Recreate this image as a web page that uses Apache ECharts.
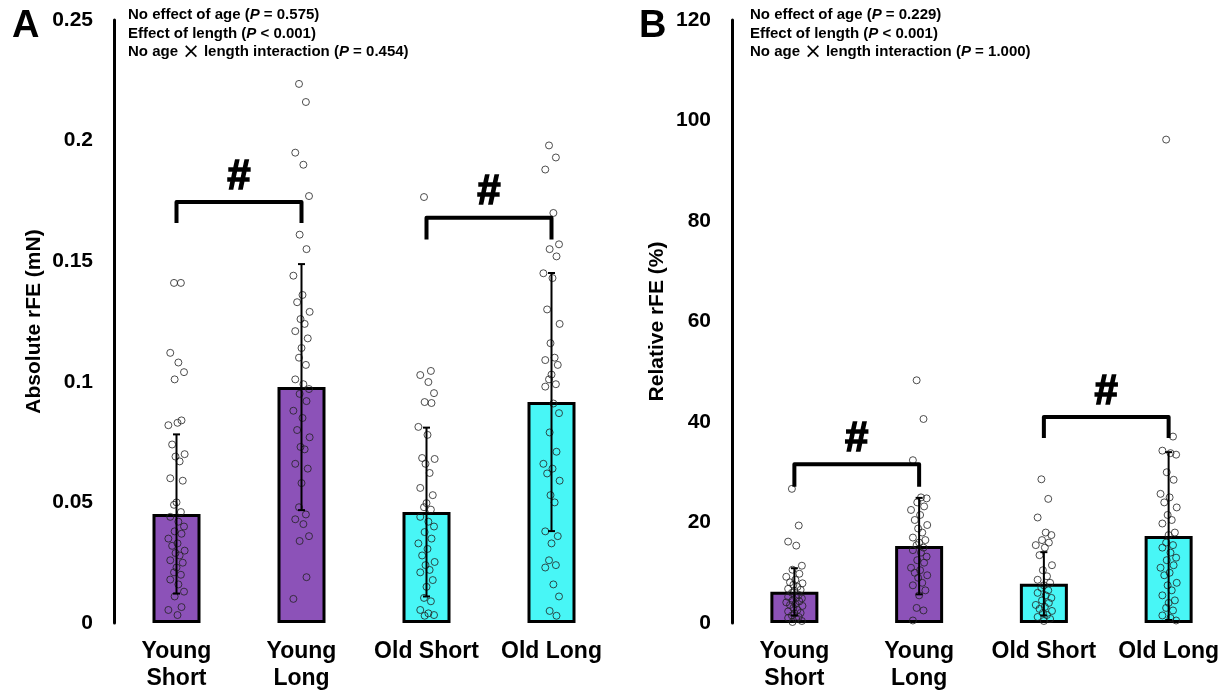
<!DOCTYPE html>
<html>
<head>
<meta charset="utf-8">
<script src="https://cdn.jsdelivr.net/npm/echarts@6/dist/echarts.min.js"></script>
<style>
  html, body { margin: 0; padding: 0; background: #fff; }
  #chart { width: 1231px; height: 694px; }
</style>
</head>
<body>
<div id="chart"></div>
<script>
var categories = ['Young\nShort', 'Young\nLong', 'Old Short', 'Old Long'];

// panel A: absolute rFE (mN)
var absMean = [0.0452, 0.0978, 0.046, 0.0916];
var absSD = [0.033, 0.051, 0.035, 0.0535];
var absYoungShort = [0.141, 0.141, 0.112, 0.108, 0.104, 0.101, 0.084, 0.082, 0.083, 0.074, 0.070, 0.069, 0.067, 0.060, 0.059, 0.050, 0.049, 0.046, 0.044, 0.042, 0.040, 0.038, 0.037, 0.035, 0.033, 0.032, 0.030, 0.029, 0.028, 0.026, 0.025, 0.023, 0.021, 0.020, 0.018, 0.016, 0.013, 0.011, 0.0066, 0.0054, 0.0033];
var absYoungLong = [0.2235, 0.216, 0.195, 0.190, 0.177, 0.161, 0.155, 0.144, 0.136, 0.133, 0.129, 0.126, 0.124, 0.121, 0.118, 0.114, 0.110, 0.107, 0.101, 0.099, 0.097, 0.095, 0.092, 0.088, 0.085, 0.080, 0.077, 0.073, 0.072, 0.066, 0.064, 0.058, 0.048, 0.045, 0.043, 0.041, 0.036, 0.034, 0.019, 0.010];
var absOldShort = [0.1766, 0.1045, 0.1028, 0.0999, 0.0953, 0.0916, 0.0912, 0.0813, 0.078, 0.0684, 0.068, 0.066, 0.0622, 0.056, 0.053, 0.0497, 0.048, 0.047, 0.044, 0.042, 0.040, 0.0377, 0.035, 0.033, 0.0307, 0.028, 0.0253, 0.024, 0.022, 0.021, 0.0178, 0.015, 0.0104, 0.009, 0.0054, 0.004, 0.0033, 0.003];
var absOldLong = [0.198, 0.193, 0.188, 0.170, 0.157, 0.155, 0.152, 0.145, 0.143, 0.130, 0.124, 0.116, 0.110, 0.109, 0.107, 0.103, 0.101, 0.099, 0.098, 0.091, 0.087, 0.079, 0.071, 0.066, 0.064, 0.062, 0.059, 0.053, 0.050, 0.038, 0.036, 0.033, 0.026, 0.024, 0.023, 0.016, 0.011, 0.005, 0.003];
// [fromCat, toCat, top, bottom]
var absBrackets = [[0, 1, 0.1745, 0.1658], [2, 3, 0.168, 0.159]];
var absStats = ['No effect of age ({i|P} = 0.575)', 'Effect of length ({i|P} < 0.001)', 'No age {x|\u00D7} length interaction ({i|P} = 0.454)'];

// panel B: relative rFE (%)
var relMean = [6.2, 15.3, 7.8, 17.3];
var relSD = [4.7, 9.6, 6.3, 16.7];
var relYoungShort = [26.7, 19.4, 16.2, 15.4, 11.4, 10.6, 9.8, 9.2, 8.6, 8.1, 7.9, 7.6, 7.2, 6.8, 6.6, 6.4, 6.0, 5.6, 5.2, 5.0, 4.9, 4.5, 4.3, 4.1, 3.8, 3.6, 3.4, 3.0, 2.6, 2.3, 2.0, 1.9, 1.5, 1.2, 1.0, 0.8, 0.4, 0.2];
var relYoungLong = [48.3, 40.6, 32.4, 25.0, 24.8, 24.0, 23.2, 22.5, 21.5, 20.5, 19.5, 18.8, 18.0, 17.0, 16.5, 16.0, 15.5, 15.0, 14.5, 14.0, 13.2, 12.5, 12.0, 11.0, 10.5, 10.0, 9.5, 9.0, 8.0, 7.5, 6.5, 5.5, 3.0, 2.5, 0.5];
var relOldShort = [28.6, 24.7, 21.0, 18.0, 17.5, 16.5, 16.0, 15.5, 15.0, 13.5, 11.5, 10.5, 9.3, 8.6, 8.0, 7.5, 7.0, 6.5, 6.0, 5.5, 5.0, 4.5, 4.0, 3.6, 3.2, 2.8, 2.4, 2.0, 1.6, 1.2, 0.8, 0.4];
var relOldLong = [96.2, 37.1, 34.3, 33.8, 33.5, 30.0, 28.5, 25.7, 25.0, 24.0, 23.0, 21.5, 20.5, 19.8, 18.0, 17.5, 16.0, 15.5, 15.0, 14.0, 13.0, 12.5, 11.5, 11.0, 10.0, 9.5, 8.0, 7.5, 6.5, 5.5, 4.5, 4.0, 3.0, 2.5, 1.5, 1.0, 0.5];
var relBrackets = [[0, 1, 31.6, 27.1], [2, 3, 41.0, 36.8]];
var relStats = ['No effect of age ({i|P} = 0.229)', 'Effect of length ({i|P} < 0.001)', 'No age {x|\u00D7} length interaction ({i|P} = 1.000)'];

// horizontal scatter offsets (category units), used in turn
var jitter = [-0.02, 0.035, -0.05, 0.015, 0.06, -0.015, 0.04, -0.065, 0.008, -0.035, 0.065, -0.008, 0.025, -0.05, 0.05, 0];

var purple = '#8c52b8';
var cyan = '#48f6f6';
var font = "'Liberation Sans', Arial, sans-serif";

function dots(groups) {
  var out = [];
  groups.forEach(function (vals, g) {
    vals.forEach(function (v, i) {
      out.push([g + jitter[i % jitter.length], v]);
    });
  });
  return out;
}

function errRows(mean, sd) {
  return mean.map(function (m, i) { return [i, m - sd[i], m + sd[i]]; });
}

function renderErr(params, api) {
  var x = api.value(0);
  var lo = api.coord([x, api.value(1)]);
  var hi = api.coord([x, api.value(2)]);
  var w = 3.5;
  var st = { stroke: '#000', lineWidth: 2 };
  return { type: 'group', children: [
    { type: 'line', shape: { x1: lo[0], y1: lo[1], x2: hi[0], y2: hi[1] }, style: st },
    { type: 'line', shape: { x1: hi[0] - w, y1: hi[1], x2: hi[0] + w, y2: hi[1] }, style: st },
    { type: 'line', shape: { x1: lo[0] - w, y1: lo[1], x2: lo[0] + w, y2: lo[1] }, style: st }
  ]};
}

function renderBracket(params, api) {
  var a = api.coord([api.value(0), api.value(3)]);
  var b = api.coord([api.value(0), api.value(2)]);
  var c = api.coord([api.value(1), api.value(2)]);
  var d = api.coord([api.value(1), api.value(3)]);
  return { type: 'group', children: [
    { type: 'polyline', shape: { points: [a, b, c, d] },
      style: { stroke: '#000', lineWidth: 4, fill: null, lineJoin: 'round' } },
    { type: 'text', x: (b[0] + c[0]) / 2, y: b[1] - 25,
      style: { text: '#', fill: '#000', stroke: '#000', lineWidth: 1.5,
        font: 'bold 42px ' + font,
        align: 'center', verticalAlign: 'middle', textAlign: 'center', textVerticalAlign: 'middle' } }
  ]};
}

function statsText(lines, left) {
  return {
    type: 'text', left: left, top: 6,
    style: {
      text: lines.join('\n'),
      fill: '#000', fontSize: 15, fontWeight: 'bold', fontFamily: font, lineHeight: 18.5,
      rich: {
        i: { fontStyle: 'italic', fontWeight: 'bold', fontSize: 15, fontFamily: font, lineHeight: 18.5 },
        x: { fontWeight: 'normal', fontSize: 21, fontFamily: "'DejaVu Sans', sans-serif", lineHeight: 18.5 }
      }
    }
  };
}

function catAxis(gi) {
  return {
    type: 'category', gridIndex: gi, data: categories,
    axisLine: { show: false }, axisTick: { show: false },
    axisLabel: { color: '#000', fontSize: 23, fontWeight: 'bold', fontFamily: font, lineHeight: 27, margin: 15, interval: 0 }
  };
}

function valAxis(gi) {
  return { type: 'value', gridIndex: gi, min: -0.5, max: 3.5, show: false };
}

function yAxis(gi, max, step, name, gap) {
  return {
    type: 'value', gridIndex: gi, min: 0, max: max, interval: step,
    name: name, nameLocation: 'middle', nameRotate: 90, nameGap: gap,
    nameTextStyle: { color: '#000', fontSize: 21, fontWeight: 'bold', fontFamily: font },
    axisLine: { show: true, onZero: false, lineStyle: { color: '#000', width: 3 } },
    axisTick: { show: false }, splitLine: { show: false },
    axisLabel: { color: '#000', fontSize: 21, fontWeight: 'bold', fontFamily: font, margin: 21 }
  };
}

function panelSeries(xc, xv, yi, mean, sd, groups, brackets) {
  return [
    { type: 'bar', xAxisIndex: xc, yAxisIndex: yi, barWidth: 48,
      data: mean.map(function (m, i) {
        return { value: m, itemStyle: { color: i < 2 ? purple : cyan } };
      }),
      itemStyle: { borderColor: '#000', borderWidth: 3 }, z: 2, silent: true },
    { type: 'scatter', xAxisIndex: xv, yAxisIndex: yi, data: dots(groups),
      symbol: 'circle', symbolSize: 7,
      itemStyle: { color: 'rgba(0,0,0,0)', borderColor: '#222', borderWidth: 1 }, z: 3, silent: true },
    { type: 'custom', xAxisIndex: xv, yAxisIndex: yi, data: errRows(mean, sd), renderItem: renderErr, z: 4, silent: true },
    { type: 'custom', xAxisIndex: xv, yAxisIndex: yi, data: brackets, renderItem: renderBracket, z: 5, silent: true }
  ];
}

var option = {
  backgroundColor: '#fff',
  animation: false,
  grid: [
    { left: 114, top: 20, width: 500, height: 603 },
    { left: 732, top: 20, width: 502, height: 603 }
  ],
  xAxis: [catAxis(0), valAxis(0), catAxis(1), valAxis(1)],
  yAxis: [
    yAxis(0, 0.25, 0.05, 'Absolute rFE (mN)', 69),
    yAxis(1, 120, 20, 'Relative rFE (%)', 64)
  ],
  graphic: [
    { type: 'text', left: 12, top: 8, style: { text: 'A', fill: '#000', fontSize: 38, fontWeight: 'bold', fontFamily: font } },
    { type: 'text', left: 639, top: 8, style: { text: 'B', fill: '#000', fontSize: 38, fontWeight: 'bold', fontFamily: font } },
    statsText(absStats, 128),
    statsText(relStats, 750)
  ],
  series: [].concat(
    panelSeries(0, 1, 0, absMean, absSD, [absYoungShort, absYoungLong, absOldShort, absOldLong], absBrackets),
    panelSeries(2, 3, 1, relMean, relSD, [relYoungShort, relYoungLong, relOldShort, relOldLong], relBrackets)
  )
};

var chart = echarts.init(document.getElementById('chart'));
chart.setOption(option);
window.addEventListener('resize', function () {
  chart.resize();
});
</script>
</body>
</html>
